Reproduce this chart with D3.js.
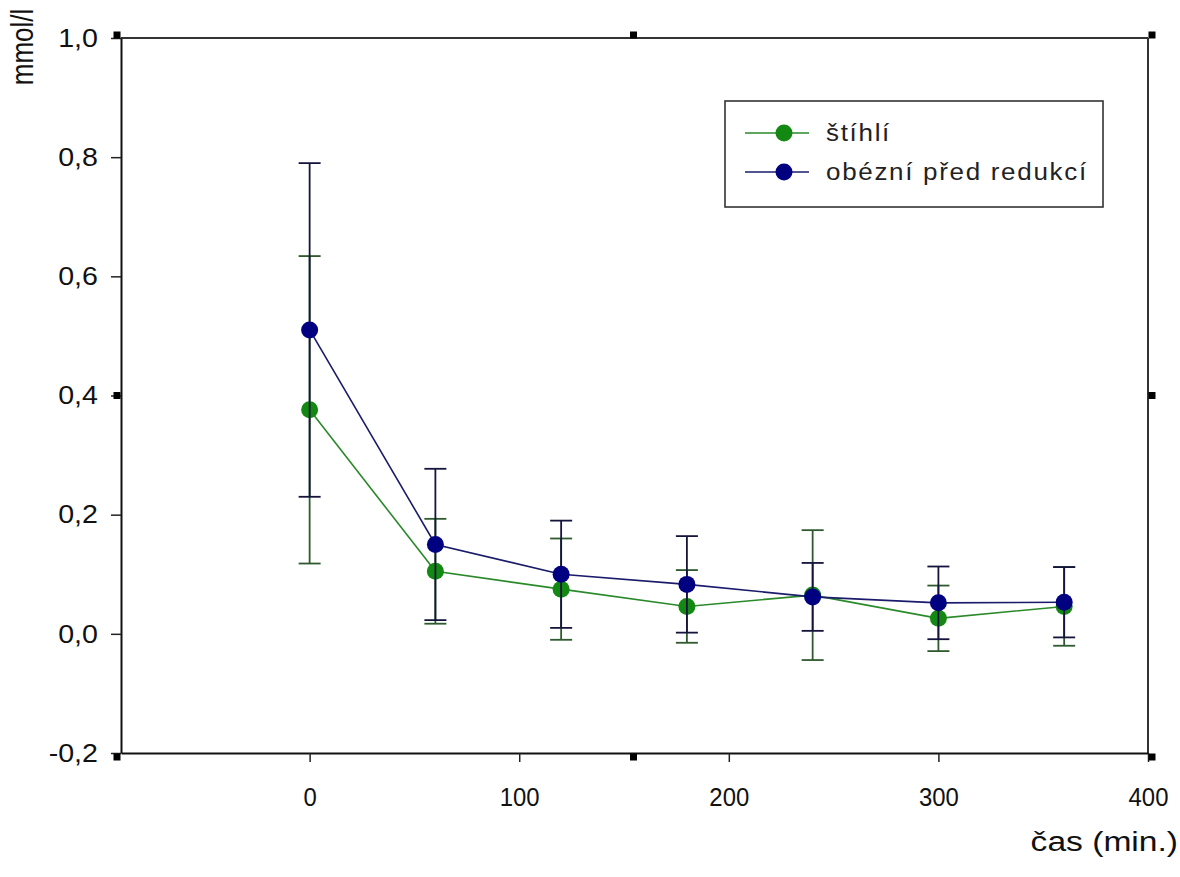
<!DOCTYPE html>
<html>
<head>
    <meta charset="utf-8" />
    <title>mmol/l v čase</title>
    <style>
        body { margin: 0; background: #fff; }
        svg { display: block; font-family: "Liberation Sans", Arial, sans-serif; }
    </style>
</head>
<body>
<script src="https://d3js.org/d3.v7.min.js"></script>
<script>
    // measurement times (min.)
    var times = [0, 60, 120, 180, 240, 300, 360];

    // štíhlí: mean and error
    var slimMean = [0.376, 0.105, 0.075, 0.046, 0.065, 0.026, 0.046];
    var slimErr  = [0.258, 0.088, 0.085, 0.061, 0.109, 0.055, 0.066];

    // obézní před redukcí: mean and error
    var obeseMean = [0.510, 0.150, 0.100, 0.083, 0.062, 0.052, 0.053];
    var obeseErr  = [0.280, 0.127, 0.090, 0.081, 0.057, 0.061, 0.059];

    var xTicks = [0, 100, 200, 300, 400];
    var yTicks = [-0.2, 0, 0.2, 0.4, 0.6, 0.8, 1.0];
    var seriesNames = ["štíhlí", "obézní před redukcí"];

    var width = 1180, height = 877;
    var margin = {"left": 121, "right": 32, "top": 38, "bottom": 124};
    var font = '"Liberation Sans", Arial, sans-serif';

    var svg = d3.select("body").append("svg")
                .attr("width", width)
                .attr("height", height);

    var x = d3.scaleLinear()
              .domain([-90, 400])
              .range([margin.left, width - margin.right]);
    var y = d3.scaleLinear()
              .domain([-0.2, 1.0])
              .range([height - margin.bottom, margin.top]);

    var fmt = function(v) { return d3.format(".1f")(v).replace(".", ",").replace("−", "-"); };

    // frame: top and right lines
    var frame = svg.append("g").attr("stroke", "#333").attr("stroke-width", 2).attr("fill", "none");
    frame.append("line").attr("x1", x.range()[0]).attr("x2", x.range()[1])
         .attr("y1", y.range()[1]).attr("y2", y.range()[1]);
    frame.append("line").attr("x1", x.range()[1]).attr("x2", x.range()[1])
         .attr("y1", y.range()[0]).attr("y2", y.range()[1]);

    // y axis
    var yAxis = svg.append("g")
                   .attr("transform", "translate(" + margin.left + ",0)")
                   .call(d3.axisLeft(y).tickValues(yTicks).tickFormat(fmt).tickSize(10).tickSizeOuter(0).tickPadding(11));
    // x axis
    var xAxis = svg.append("g")
                   .attr("transform", "translate(0," + (height - margin.bottom) + ")")
                   .call(d3.axisBottom(x).tickValues(xTicks).tickSize(9).tickSizeOuter(0).tickPadding(26));

    [yAxis, xAxis].forEach(function(ax) {
        ax.attr("font-family", font);
        ax.select(".domain").attr("stroke", "#111").attr("stroke-width", 2);
        ax.selectAll(".tick line").attr("stroke", "#222").attr("stroke-width", 1.5);
        ax.selectAll(".tick text")
          .attr("fill", "#111")
          .style("font-size", "26px");
    });
    yAxis.selectAll(".tick text").attr("transform", "scale(1.1,1)");
    xAxis.selectAll(".tick text").attr("transform", "scale(0.92,1)");

    // axis titles
    svg.append("text")
       .attr("transform", "translate(33,47) rotate(-90) scale(1,1.2)")
       .attr("text-anchor", "middle")
       .style("font-size", "26px")
       .attr("fill", "#111")
       .text("mmol/l");

    svg.append("text")
       .attr("transform", "translate(1178,851) scale(1.2,1)")
       .attr("text-anchor", "end")
       .style("font-size", "28px")
       .attr("fill", "#111")
       .text("čas (min.)");

    var series = [
        {"name": seriesNames[0], "mean": slimMean, "err": slimErr,
         "line": "#2a8a2a", "dot": "#138913", "bar": "#2f5a2f"},
        {"name": seriesNames[1], "mean": obeseMean, "err": obeseErr,
         "line": "#1b1b6b", "dot": "#000080", "bar": "#14143c"}
    ];

    var capW = 11;
    var line = d3.line().x(d => x(d.t)).y(d => y(d.v));

    series.forEach(function(s) {
        var pts = times.map(function(t, i) { return {"t": t, "v": s.mean[i], "e": s.err[i]}; });
        var g = svg.append("g");

        var bars = g.append("g").attr("stroke", s.bar).attr("stroke-width", 1.8);
        bars.selectAll(".stem").data(pts).enter().append("line")
            .attr("x1", d => x(d.t)).attr("x2", d => x(d.t))
            .attr("y1", d => y(d.v + d.e)).attr("y2", d => y(d.v - d.e));
        bars.selectAll(".capTop").data(pts).enter().append("line")
            .attr("x1", d => x(d.t) - capW).attr("x2", d => x(d.t) + capW)
            .attr("y1", d => y(d.v + d.e)).attr("y2", d => y(d.v + d.e));
        bars.selectAll(".capBot").data(pts).enter().append("line")
            .attr("x1", d => x(d.t) - capW).attr("x2", d => x(d.t) + capW)
            .attr("y1", d => y(d.v - d.e)).attr("y2", d => y(d.v - d.e));

        g.append("path").datum(pts)
         .attr("d", line)
         .attr("fill", "none")
         .attr("stroke", s.line)
         .attr("stroke-width", 1.6);

        g.selectAll("circle").data(pts).enter().append("circle")
         .attr("cx", d => x(d.t)).attr("cy", d => y(d.v))
         .attr("r", 8.5)
         .attr("fill", s.dot);
    });

    // legend
    var legend = svg.append("g");
    legend.append("rect")
          .attr("x", 725).attr("y", 101).attr("width", 378).attr("height", 106)
          .attr("fill", "#fff").attr("stroke", "#333").attr("stroke-width", 1.6);
    series.forEach(function(s, i) {
        var ly = 133 + i * 39;
        legend.append("line").attr("x1", 745).attr("x2", 809).attr("y1", ly).attr("y2", ly)
              .attr("stroke", s.line).attr("stroke-width", 1.6);
        legend.append("circle").attr("cx", 784).attr("cy", ly).attr("r", 8.5).attr("fill", s.dot);
        legend.append("text")
              .attr("transform", "translate(826," + (ly + 8) + ") scale(1.13,1)")
              .style("font-size", "23px")
              .style("letter-spacing", "1.5px")
              .attr("fill", "#222")
              .text(s.name);
    });

    // small square handles around the plot
    var hx = [x.range()[0] - 4, (x.range()[0] + x.range()[1]) / 2 - 1, x.range()[1] + 4];
    var hy = [y.range()[1] - 3, (y.range()[0] + y.range()[1]) / 2, y.range()[0] + 4];
    var handles = [];
    hx.forEach(function(a, i) {
        hy.forEach(function(b, j) {
            if (i == 1 && j == 1) return;
            handles.push([a, b]);
        });
    });
    svg.append("g").selectAll("rect").data(handles).enter().append("rect")
       .attr("x", d => d[0] - 3.5).attr("y", d => d[1] - 3.5)
       .attr("width", 7).attr("height", 7)
       .attr("fill", "#000");
</script>
</body>
</html>
